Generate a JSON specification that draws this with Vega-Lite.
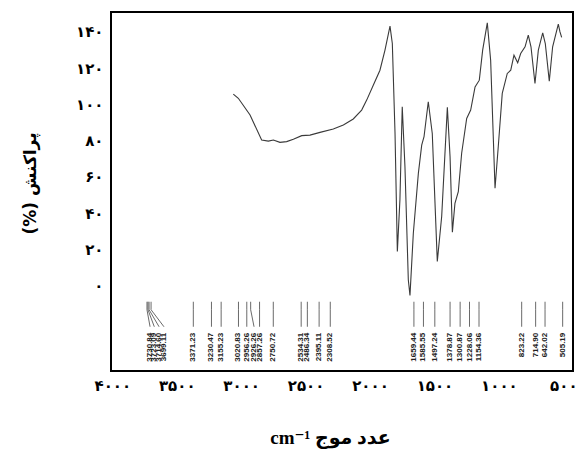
{
  "$schema": "https://vega.github.io/schema/vega-lite/v6.json",
  "autosize": {"type": "none"},
  "padding": {"left": 111, "top": 12, "right": 11, "bottom": 79},
  "width": 462,
  "height": 359,
  "background": "white",
  "config": {
    "view": {"stroke": "black", "strokeWidth": 2},
    "axis": {"grid": false, "ticks": false, "domain": false}
  },
  "datasets": {
    "spectrum": [
      {"wn": 3061, "t": 105.7}, {"wn": 3022, "t": 103.4}, {"wn": 2931, "t": 94.2}, {"wn": 2841, "t": 80.4},
      {"wn": 2789, "t": 79.8}, {"wn": 2750, "t": 80.4}, {"wn": 2699, "t": 79.1}, {"wn": 2647, "t": 79.5},
      {"wn": 2595, "t": 80.8}, {"wn": 2530, "t": 82.8}, {"wn": 2466, "t": 83.1}, {"wn": 2388, "t": 84.6},
      {"wn": 2285, "t": 86.5}, {"wn": 2207, "t": 88.7}, {"wn": 2130, "t": 92}, {"wn": 2065, "t": 96.9},
      {"wn": 2026, "t": 102.4}, {"wn": 1974, "t": 110.7}, {"wn": 1923, "t": 118.9}, {"wn": 1884, "t": 130},
      {"wn": 1845, "t": 143.2}, {"wn": 1827, "t": 133.6}, {"wn": 1806, "t": 84}, {"wn": 1788, "t": 18.9},
      {"wn": 1768, "t": 47.4}, {"wn": 1750, "t": 98.7}, {"wn": 1729, "t": 65.7}, {"wn": 1703, "t": 3.3},
      {"wn": 1690, "t": -5.3}, {"wn": 1664, "t": 29}, {"wn": 1625, "t": 62}, {"wn": 1599, "t": 77.6},
      {"wn": 1581, "t": 82.2}, {"wn": 1548, "t": 101.5}, {"wn": 1517, "t": 84}, {"wn": 1478, "t": 13.4},
      {"wn": 1444, "t": 38.2}, {"wn": 1400, "t": 98.4}, {"wn": 1379, "t": 71.2}, {"wn": 1361, "t": 29.6},
      {"wn": 1341, "t": 45.5}, {"wn": 1315, "t": 51.9}, {"wn": 1289, "t": 73.1}, {"wn": 1250, "t": 92.3},
      {"wn": 1219, "t": 96.9}, {"wn": 1185, "t": 109.7}, {"wn": 1152, "t": 113.4}, {"wn": 1126, "t": 130},
      {"wn": 1090, "t": 145}, {"wn": 1064, "t": 124.4}, {"wn": 1030, "t": 53.8}, {"wn": 1005, "t": 76.7},
      {"wn": 974, "t": 106.1}, {"wn": 935, "t": 117.1}, {"wn": 908, "t": 118.9}, {"wn": 883, "t": 127.2},
      {"wn": 854, "t": 123}, {"wn": 831, "t": 128.1}, {"wn": 797, "t": 131.8}, {"wn": 772, "t": 138.2},
      {"wn": 751, "t": 131.8}, {"wn": 720, "t": 111.6}, {"wn": 694, "t": 130}, {"wn": 660, "t": 139.5},
      {"wn": 640, "t": 133.6}, {"wn": 609, "t": 112.9}, {"wn": 583, "t": 131.8}, {"wn": 539, "t": 144.3},
      {"wn": 526, "t": 140}, {"wn": 513, "t": 137}
    ],
    "peaks": [
      {"wn": 3730.84, "labelAt": 3707, "label": "3730.84"},
      {"wn": 3723.09, "labelAt": 3674, "label": "3723.09"},
      {"wn": 3714.60, "labelAt": 3637, "label": "3714.60"},
      {"wn": 3699.11, "labelAt": 3599, "label": "3699.11"},
      {"wn": 3371.23, "labelAt": 3371.23, "label": "3371.23"},
      {"wn": 3230.47, "labelAt": 3230.47, "label": "3230.47"},
      {"wn": 3155.23, "labelAt": 3155.23, "label": "3155.23"},
      {"wn": 3020.83, "labelAt": 3020.83, "label": "3020.83"},
      {"wn": 2956.26, "labelAt": 2956.26, "label": "2956.26"},
      {"wn": 2926.26, "labelAt": 2900, "label": "2926.26"},
      {"wn": 2857.26, "labelAt": 2857.26, "label": "2857.26"},
      {"wn": 2750.72, "labelAt": 2750.72, "label": "2750.72"},
      {"wn": 2534.31, "labelAt": 2534.31, "label": "2534.31"},
      {"wn": 2486.34, "labelAt": 2486.34, "label": "2486.34"},
      {"wn": 2395.11, "labelAt": 2395.11, "label": "2395.11"},
      {"wn": 2308.52, "labelAt": 2308.52, "label": "2308.52"},
      {"wn": 1659.44, "labelAt": 1659.44, "label": "1659.44"},
      {"wn": 1585.55, "labelAt": 1585.55, "label": "1585.55"},
      {"wn": 1497.24, "labelAt": 1497.24, "label": "1497.24"},
      {"wn": 1378.87, "labelAt": 1378.87, "label": "1378.87"},
      {"wn": 1300.87, "labelAt": 1300.87, "label": "1300.87"},
      {"wn": 1228.06, "labelAt": 1228.06, "label": "1228.06"},
      {"wn": 1154.36, "labelAt": 1154.36, "label": "1154.36"},
      {"wn": 823.22, "labelAt": 823.22, "label": "823.22"},
      {"wn": 714.90, "labelAt": 714.90, "label": "714.90"},
      {"wn": 642.02, "labelAt": 642.02, "label": "642.02"},
      {"wn": 505.19, "labelAt": 505.19, "label": "505.19"}
    ]
  },
  "layer": [
    {
      "data": {"name": "spectrum"},
      "mark": {"type": "line", "color": "#3a3a3a", "strokeWidth": 1.1},
      "encoding": {
        "x": {
          "field": "wn", "type": "quantitative",
          "scale": {"domain": [425, 4010], "reverse": true, "nice": false, "zero": false},
          "axis": {
            "values": [4000, 3500, 3000, 2500, 2000, 1500, 1000, 500],
            "labelExpr": "{'4000':'۴۰۰۰','3500':'۳۵۰۰','3000':'۳۰۰۰','2500':'۲۵۰۰','2000':'۲۰۰۰','1500':'۱۵۰۰','1000':'۱۰۰۰','500':'۵۰۰'}[''+datum.value]",
            "labelFont": "DejaVu Sans",
            "labelFontSize": 15,
            "labelFontWeight": "bold",
            "labelColor": "black",
            "labelPadding": 7,
            "labelFlush": false,
            "labelOverlap": false,
            "title": "cm⁻¹ عدد موج",
            "titleFont": "'Liberation Serif', 'DejaVu Sans'",
            "titleFontSize": 19,
            "titleFontWeight": "bold",
            "titleColor": "black",
            "titleX": 219,
            "titleY": 66,
            "titleBaseline": "middle",
            "titleAlign": "center"
          }
        },
        "y": {
          "field": "t", "type": "quantitative",
          "scale": {"domain": [-47, 151], "nice": false, "zero": false},
          "axis": {
            "values": [0, 20, 40, 60, 80, 100, 120, 140],
            "labelExpr": "{'0':'۰','20':'۲۰','40':'۴۰','60':'۶۰','80':'۸۰','100':'۱۰۰','120':'۱۲۰','140':'۱۴۰'}[''+datum.value]",
            "labelFont": "DejaVu Sans",
            "labelFontSize": 15,
            "labelFontWeight": "bold",
            "labelColor": "black",
            "labelPadding": 8,
            "labelOverlap": false,
            "title": "(%) پراکنش",
            "titleFont": "DejaVu Sans",
            "titleFontSize": 17,
            "titleFontWeight": "bold",
            "titleColor": "black",
            "titleAngle": 270,
            "titleX": -81,
            "titleY": 171,
            "titleAlign": "center",
            "titleBaseline": "middle"
          }
        }
      }
    },
    {
      "data": {"name": "peaks"},
      "mark": {"type": "rule", "color": "#444", "strokeWidth": 0.8},
      "encoding": {
        "x": {"field": "wn", "type": "quantitative"},
        "y": {"datum": -8.8},
        "y2": {"datum": -13.2}
      }
    },
    {
      "data": {"name": "peaks"},
      "mark": {"type": "rule", "color": "#444", "strokeWidth": 0.8},
      "encoding": {
        "x": {"field": "wn", "type": "quantitative"},
        "x2": {"field": "labelAt"},
        "y": {"datum": -13.2},
        "y2": {"datum": -22.6}
      }
    },
    {
      "data": {"name": "peaks"},
      "mark": {"type": "text", "angle": 270, "align": "right", "baseline": "middle", "font": "Liberation Sans", "fontWeight": "bold", "fontSize": 8, "color": "#222"},
      "encoding": {
        "x": {"field": "labelAt", "type": "quantitative"},
        "y": {"datum": -25.9},
        "text": {"field": "label"}
      }
    }
  ]
}
